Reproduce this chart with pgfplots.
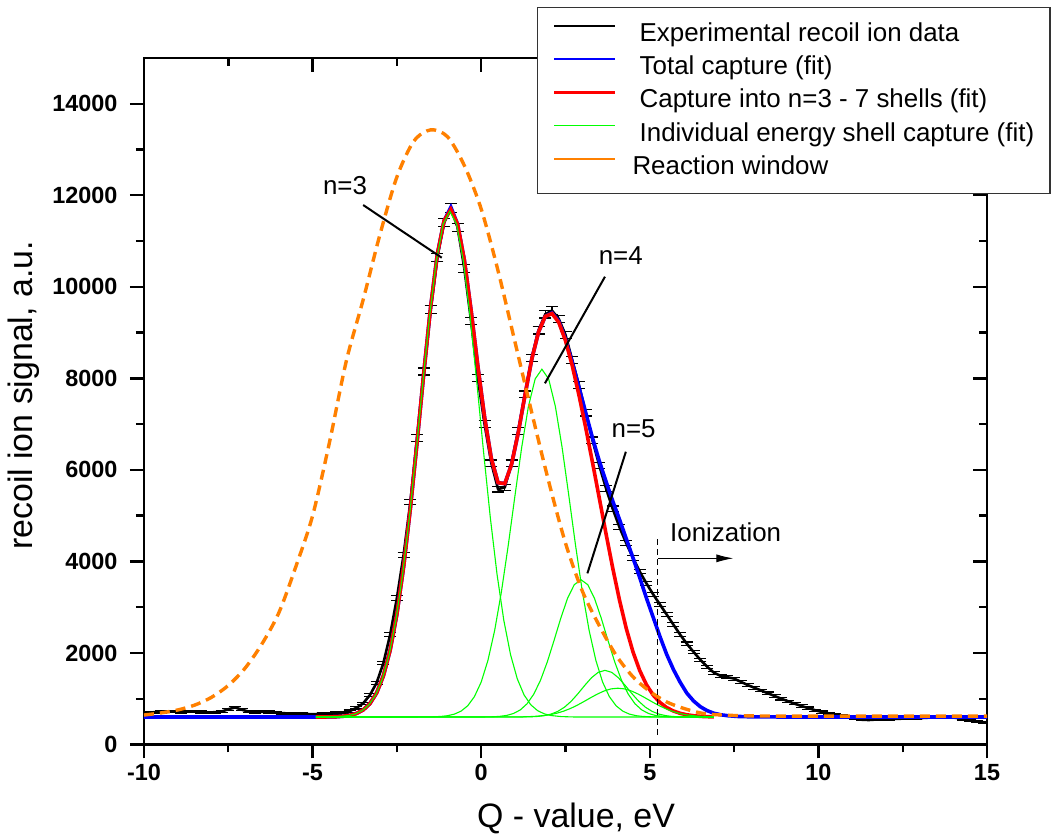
\documentclass[border=0pt]{standalone}
\usepackage{fontspec}
\setmainfont{Liberation Sans}
\usepackage{pgfplots}
\pgfplotsset{compat=1.18}
\usepackage{pgfplotstable}
\usetikzlibrary{arrows.meta}

\definecolor{myorange}{RGB}{255,128,0}
\definecolor{mygreen}{RGB}{0,255,0}
\definecolor{myblue}{RGB}{0,0,255}
\definecolor{myred}{RGB}{255,0,0}

\pgfplotstableread{
x y e
-10.0 690 22
-9.9 690 22
-9.7 705 23
-9.5 710 23
-9.3 715 23
-9.1 720 23
-8.9 712 23
-8.7 718 23
-8.5 722 23
-8.3 710 23
-8.1 700 22
-7.9 705 23
-7.7 720 23
-7.5 770 24
-7.3 810 24
-7.1 760 23
-6.9 720 23
-6.7 712 23
-6.5 715 23
-6.3 708 23
-6.1 695 22
-5.9 685 22
-5.7 678 22
-5.5 672 22
-5.3 668 22
-5.1 665 22
-4.9 665 22
-4.7 668 22
-4.5 675 22
-4.3 688 22
-4.1 700 22
-3.9 730 23
-3.7 800 24
-3.5 900 25
-3.3 1080 28
-3.1 1350 31
-2.9 1780 36
-2.7 2400 42
-2.5 3200 48
-2.3 4150 55
-2.1 5300 62
-1.9 6700 70
-1.7 8150 77
-1.5 9500 83
-1.3 10650 88
-1.1 11400 91
-0.9 11720 92
-0.7 11300 90
-0.5 10400 87
-0.3 9250 82
-0.1 8000 76
0.1 7000 71
0.3 6150 67
0.5 5580 63
0.7 5620 64
0.9 6150 67
1.1 6850 70
1.3 7650 74
1.5 8450 78
1.7 9050 81
1.9 9400 82
2.1 9480 83
2.3 9300 82
2.5 8950 80
2.7 8400 78
2.9 7850 75
3.1 7250 72
3.3 6650 69
3.5 6100 66
3.7 5600 64
3.9 5150 61
4.1 4750 59
4.3 4400 56
4.5 4080 54
4.7 3780 52
4.9 3520 50
5.1 3280 49
5.3 3060 47
5.5 2840 45
5.7 2620 44
5.9 2400 42
6.1 2200 40
6.3 2020 38
6.5 1850 37
6.7 1700 35
6.9 1570 34
7.1 1500 33
7.3 1470 33
7.5 1440 32
7.7 1370 31
7.9 1300 31
8.1 1240 30
8.3 1180 29
8.5 1120 28
8.7 1060 28
8.9 1000 27
9.1 945 26
9.3 890 25
9.5 840 25
9.7 795 24
9.9 750 23
10.1 710 23
10.3 680 22
10.5 655 22
10.7 630 21
10.9 605 21
11.1 570 20
11.3 540 20
11.5 535 20
11.7 545 20
11.9 550 20
12.1 555 20
12.3 560 20
12.5 565 20
12.7 570 20
12.9 575 20
13.1 580 20
13.3 588 21
13.5 598 21
13.7 608 21
13.9 600 21
14.1 580 20
14.3 555 20
14.5 530 20
14.7 505 19
14.9 485 19
15.0 480 19
}\expdata

\pgfplotstableread{
x y
-10 600
-4.9 600
-4.7 601
-4.5 603
-4.3 607
-4.1 617
-3.9 637
-3.7 678
-3.5 755
-3.3 894
-3.1 1128
-2.9 1502
-2.7 2062
-2.5 2850
-2.3 3890
-2.1 5166
-1.9 6619
-1.7 8135
-1.5 9558
-1.3 10715
-1.1 11446
-0.9 11740
-0.7 11369
-0.5 10586
-0.3 9486
-0.1 8270
0.1 7152
0.3 6250
0.5 5720
0.7 5700
0.9 6120
1.1 6820
1.3 7640
1.5 8419
1.7 9013
1.9 9354
2.1 9430
2.3 9250
2.5 8850
2.7 8350
2.9 7800
3.1 7250
3.3 6700
3.5 6200
3.7 5750
3.9 5320
4.1 4920
4.3 4500
4.5 4080
4.7 3650
4.9 3200
5.1 2780
5.3 2360
5.5 1970
5.7 1640
5.9 1360
6.1 1120
6.3 950
6.5 825
6.7 740
6.9 683
7.1 650
7.3 630
7.6 613
8.0 605
9.0 601
15 600
}\totalfit

\pgfplotstableread{
x y
-4.9 600
-4.7 601
-4.5 603
-4.3 607
-4.1 617
-3.9 637
-3.7 678
-3.5 755
-3.3 894
-3.1 1128
-2.9 1502
-2.7 2062
-2.5 2850
-2.3 3890
-2.1 5166
-1.9 6619
-1.7 8135
-1.5 9558
-1.3 10715
-1.1 11446
-0.9 11693
-0.7 11369
-0.5 10586
-0.3 9486
-0.1 8270
0.1 7152
0.3 6250
0.5 5720
0.7 5700
0.9 6120
1.1 6820
1.3 7640
1.5 8419
1.7 9013
1.9 9354
2.1 9417
2.3 9224
2.5 8824
2.7 8277
2.9 7630
3.1 6920
3.3 6166
3.5 5391
3.7 4612
3.9 3857
4.1 3159
4.3 2542
4.5 2027
4.7 1618
4.9 1307
5.1 1080
5.3 918
5.5 807
5.7 732
5.9 681
6.1 649
6.3 628
6.5 615
6.7 608
6.9 604
}\shellfit

\pgfplotstableread{
x y
-4.9 600
-4.23 610
-3.93 633
-3.73 670
-3.53 741
-3.33 868
-3.13 1085
-2.93 1435
-2.73 1964
-2.53 2716
-2.33 3717
-2.13 4960
-1.93 6393
-1.73 7910
-1.53 9358
-1.33 10565
-1.13 11368
-0.93 11650
-0.73 11368
-0.53 10565
-0.33 9358
-0.13 7910
0.07 6393
0.27 4960
0.47 3717
0.67 2716
0.87 1964
1.07 1435
1.27 1085
1.47 868
1.67 741
1.87 670
2.07 633
2.37 610
2.77 601
6.9 600
}\nthree

\pgfplotstableread{
x y
-4.9 600
-1.5 603
-1.2 613
-1.0 629
-0.8 663
-0.6 728
-0.4 846
-0.2 1047
0.0 1365
0.2 1839
0.4 2495
0.6 3339
0.8 4341
1.0 5429
1.2 6488
1.4 7385
1.6 7988
1.8 8200
2.0 7988
2.2 7385
2.4 6488
2.6 5429
2.8 4341
3.0 3339
3.2 2495
3.4 1839
3.6 1365
3.8 1047
4.0 846
4.2 728
4.4 663
4.6 629
4.8 613
5.1 603
6.9 600
}\nfour

\pgfplotstableread{
x y
-4.9 600
0.06 601
0.36 606
0.56 616
0.76 636
0.96 678
1.16 756
1.36 890
1.56 1101
1.76 1406
1.96 1804
2.16 2273
2.36 2760
2.56 3192
2.76 3492
2.96 3600
3.16 3492
3.36 3192
3.56 2760
3.76 2273
3.96 1804
4.16 1406
4.36 1101
4.56 890
4.76 756
4.96 678
5.16 636
5.36 616
5.56 606
5.86 601
6.9 600
}\nfive

\pgfplotstableread{
x y
-4.9 600
1.17 601
1.47 605
1.67 613
1.87 631
2.07 664
2.27 723
2.47 815
2.67 946
2.87 1111
3.07 1291
3.27 1458
3.47 1577
3.67 1620
3.87 1577
4.07 1458
4.27 1291
4.47 1111
4.67 946
4.87 815
5.07 723
5.27 664
5.47 631
5.67 613
5.87 605
6.17 601
6.9 600
}\nsix

\pgfplotstableread{
x y
-4.9 600
1.2 604
1.45 610
1.65 618
1.85 632
2.05 653
2.25 685
2.45 730
2.65 788
2.85 859
3.05 940
3.25 1024
3.45 1104
3.65 1171
3.85 1215
4.05 1230
4.25 1215
4.45 1171
4.65 1104
4.85 1024
5.05 940
5.25 859
5.45 788
5.65 730
5.85 685
6.05 653
6.25 632
6.45 618
6.65 610
6.9 604
}\nseven

\pgfplotstableread{
x y
-10 644
-9.5 690
-9 755
-8.5 860
-8 1030
-7.5 1290
-7 1670
-6.5 2200
-6 2880
-5.5 3880
-5 5000
-4.5 6600
-4 8380
-3.5 9720
-3 11150
-2.5 12400
-2 13180
-1.5 13430
-1 13280
-0.5 12650
0 11700
0.5 10350
1 8800
1.5 7250
2 5750
2.5 4400
3 3350
3.5 2600
4 1950
4.5 1480
5 1160
5.5 930
6 790
6.5 690
7 650
8 625
10 620
12 620
15 620
}\window

\pgfplotsset{
  commonax/.style={
    at={(0,0)}, anchor=south west,
    scale only axis, width=843bp, height=686.5bp,
    xmin=-10, xmax=15, ymin=0, ymax=15000,
    xtick={-10,-5,0,5,10,15},
    ytick={0,2000,4000,6000,8000,10000,12000,14000},
    minor x tick num=1, minor y tick num=1,
    major tick length=14bp, minor tick length=8bp,
    tick style={black, line width=2.4bp},
    axis line style={line width=2.8bp},
    scaled ticks=false,
  }
}

\begin{document}
\begin{tikzpicture}
\path[use as bounding box] (-144bp,-94.5bp) rectangle (915bp,744.5bp);

% inward ticks on top and right
\begin{axis}[commonax, tick align=inside, xtick pos=right, ytick pos=right,
  xticklabels={}, yticklabels={}]
\end{axis}

\begin{axis}[commonax, tick align=outside, xtick pos=left, ytick pos=left,
  /pgf/number format/assume math mode=true,
  /pgf/number format/1000 sep={},
  ticklabel style={font=\fontsize{23.5}{28}\selectfont\bfseries},
  yticklabel style={xshift=-9bp},
  xticklabel style={yshift=-2bp},
  xlabel={Q - value, eV},
  ylabel={recoil ion signal, a.u.},
  label style={font=\fontsize{34}{40}\selectfont},
  xlabel style={at={(axis description cs:0.5125,-0.1206)}, anchor=base},
  ylabel style={at={(axis description cs:-0.1317,0.5084)}, anchor=base},
  legend cell align=left,
  legend image code/.code={\draw[#1] (0bp,8bp) -- (61bp,8bp);},
  legend style={
    at={(axis description cs:0.4662,1.0743)}, anchor=north west,
    draw=black!80, line width=1.2bp, fill=white,
    font=\fontsize{26}{30}\selectfont,
    inner xsep=15.7bp, inner ysep=9.75bp,
    row sep=0bp,
    nodes={inner xsep=0bp, inner ysep=0bp, text height=23.95bp, text depth=9.35bp},
    /tikz/every odd column/.append style={column sep=16bp},
  },
]
\addlegendimage{black, line width=2.2bp}
\addlegendentry{\ Experimental recoil ion data}
\addlegendimage{myblue, line width=2.2bp}
\addlegendentry{\ Total capture (fit)}
\addlegendimage{myred, line width=2.2bp}
\addlegendentry{\ Capture into n=3 - 7 shells (fit)}
\addlegendimage{mygreen, line width=1.1bp}
\addlegendentry{\ Individual energy shell capture (fit)}
\addlegendimage{myorange, line width=2.2bp}
\addlegendentry{Reaction window}

\addplot[black, line width=2.6bp, forget plot,
  error bars/.cd, y dir=both, y explicit,
  error bar style={line width=1.1bp, black},
  error mark options={black, line width=1.1bp, mark size=6bp, rotate=90}]
  table[x=x, y=y, y error=e] {\expdata};

\addplot[myblue, line width=3.6bp, forget plot] table[x=x, y=y] {\totalfit};
\addplot[myred, line width=3.6bp, forget plot] table[x=x, y=y] {\shellfit};

\addplot[mygreen, line width=1.1bp, forget plot] table[x=x, y=y] {\nthree};
\addplot[mygreen, line width=1.1bp, forget plot] table[x=x, y=y] {\nfour};
\addplot[mygreen, line width=1.1bp, forget plot] table[x=x, y=y] {\nfive};
\addplot[mygreen, line width=1.1bp, forget plot] table[x=x, y=y] {\nsix};
\addplot[mygreen, line width=1.1bp, forget plot] table[x=x, y=y] {\nseven};

\addplot[myorange, line width=3.4bp, dash pattern=on 10bp off 6bp, smooth, forget plot]
  table[x=x, y=y] {\window};

% annotations
\draw[black, line width=2bp] (axis cs:-3.50,11787) -- (axis cs:-1.17,10636);
\node[font=\fontsize{26}{30}\selectfont] at (axis cs:-4.04,12202) {n=3};
\draw[black, line width=2bp] (axis cs:3.67,10221) -- (axis cs:1.89,7892);
\node[font=\fontsize{26}{30}\selectfont] at (axis cs:4.14,10673) {n=4};
\draw[black, line width=2bp] (axis cs:4.29,6397) -- (axis cs:3.15,3740);
\node[font=\fontsize{26}{30}\selectfont] at (axis cs:4.52,6889) {n=5};
\draw[black, line width=1.1bp, dash pattern=on 6bp off 4bp] (axis cs:5.22,208) -- (axis cs:5.22,4505);
\node[font=\fontsize{26}{30}\selectfont, anchor=base west, inner sep=0pt] at (axis cs:5.60,4431) {Ionization};
\draw[black, line width=1.1bp, -{Latex[length=17bp,width=8bp]}] (axis cs:5.25,4068) -- (axis cs:7.48,4068);
\end{axis}
\end{tikzpicture}
\end{document}
